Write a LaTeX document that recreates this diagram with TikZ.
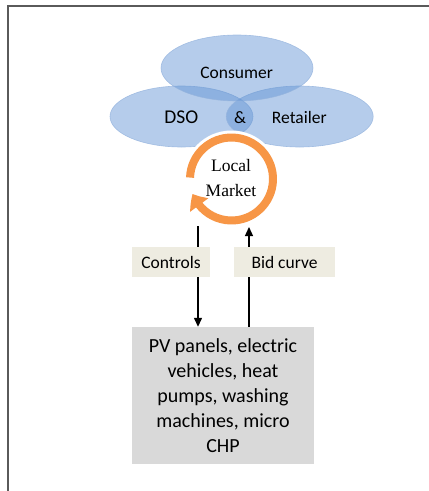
\documentclass[tikz,border=0pt]{standalone}
\usepackage{fontspec}
\setmainfont{Carlito}
\newfontfamily\serifface{Liberation Serif}
\usetikzlibrary{arrows.meta,bending,shapes.geometric}
\definecolor{ellfill}{RGB}{91,143,210}
\definecolor{ellline}{RGB}{150,180,222}
\definecolor{ringorange}{RGB}{247,150,70}
\definecolor{labelbg}{RGB}{238,236,225}
\definecolor{boxgray}{RGB}{217,217,217}
\definecolor{framegray}{RGB}{90,90,90}
\tikzset{
  party/.style={ellipse,fill=ellfill,fill opacity=0.45,draw=ellline,draw opacity=0.8,line width=0.6pt,inner sep=0pt},
  partytext/.style={font=\fontsize{17.5}{21}\selectfont,inner sep=0pt},
  flowlabel/.style={fill=labelbg,minimum height=30pt,inner sep=0pt,font=\fontsize{17.5}{21}\selectfont},
  flowarrow/.style={line width=1.3pt,-{Triangle[length=9pt,width=8pt]}},
}
\begin{document}
\begin{tikzpicture}[x=1pt,y=-1pt]
\useasboundingbox (0,0) rectangle (429,491);
\draw[framegray,line width=1.5pt] (8,491) -- (8,6) -- (429,6);

% parties
\node[party,minimum width=143pt,minimum height=61pt] (dso) at (181.5,116.5) {};
\node[party,minimum width=147pt,minimum height=61pt] (ret) at (299.7,116.5) {};
\node[party,minimum width=152pt,minimum height=66pt] (con) at (237,68) {};
\node[partytext] (contxt) at (236.7,72.7) {Consumer};
\node[partytext,font=\fontsize{19.5}{23}\selectfont] (dsotxt) at (181.3,117.3) {DSO};
\node[partytext] (amp) at (240,117.3) {\&};
\node[partytext] (rettxt) at (299.3,117.3) {Retailer};

% local market ring
\node[circle,fill=white,minimum size=97pt,inner sep=0pt] (mkt) at (231.5,179) {};
\draw[ringorange,line width=8pt,-{Triangle[bend,length=13pt,width=22pt]}]
  ([shift={(182:41.5)}]mkt.center) arc[start angle=182,end angle=519,radius=41.5];
\node[font=\serifface\fontsize{17.5}{25}\selectfont,align=center,inner sep=0pt] (mkttxt) at (231,178) {Local\\Market};

% devices box
\node[fill=boxgray,minimum width=182pt,minimum height=137pt,align=center,inner sep=0pt,
      font=\fontsize{20}{25}\selectfont] (dev) at (223,395.5)
  {PV panels, electric\\vehicles, heat\\pumps, washing\\machines, micro\\CHP};

% flows
\coordinate (ctop) at (198,226);
\coordinate (btop) at (249,227);
\draw[flowarrow] (ctop) -- (ctop |- dev.north);
\draw[flowarrow] (btop |- dev.north) -- (btop);
\node[flowlabel,minimum width=78pt] (ctl) at (171,262) {Controls};
\node[flowlabel,minimum width=101pt] (bid) at (284.5,262) {Bid curve};
\end{tikzpicture}
\end{document}
